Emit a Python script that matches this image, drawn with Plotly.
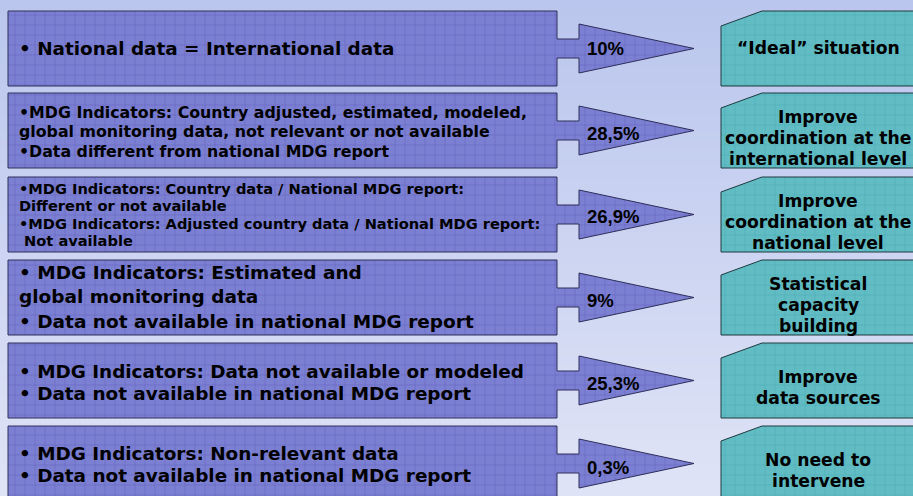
import plotly.graph_objects as go

# ---- content ----
left_texts = [
    "• National data = International data",
    "•MDG Indicators: Country adjusted, estimated, modeled,<br>global monitoring data, not relevant or not available<br>•Data different from national MDG report",
    "•MDG Indicators: Country data / National MDG report:<br>Different or not available<br>•MDG Indicators: Adjusted country data / National MDG report:<br> Not available",
    "• MDG Indicators: Estimated and<br>global monitoring data<br>• Data not available in national MDG report",
    "• MDG Indicators: Data not available or modeled<br>• Data not available in national MDG report",
    "• MDG Indicators: Non-relevant data<br>• Data not available in national MDG report",
]
percent_labels = ["10%", "28,5%", "26,9%", "9%", "25,3%", "0,3%"]
right_texts = [
    "“Ideal” situation",
    "Improve<br>coordination at the<br>international level",
    "Improve<br>coordination at the<br>national level",
    "Statistical<br>capacity<br>building",
    "Improve<br>data sources",
    "No need to<br>intervene",
]

# ---- layout / style constants ----
W, H = 913, 496
row_tops = [11, 93, 177, 260, 343, 426]
row_h = 75
box_x0, box_x1 = 8, 557
head_x, tip_x = 579, 694
stem_half, head_half = 9.5, 24.5
rb_x0, rb_x1 = 721, 923
chamfer_w, chamfer_h = 41, 15

left_font_sizes = [18.4, 15.8, 14.6, 18.5, 18.4, 18.4]
left_line_gap = [0, 19.5, 17.6, 24.5, 22, 22]
left_dy = [0, 1, 0, -1, 1.5, 0.5]
pct_dy = [0, 2.5, 1.5, 2.5, 2.5, 3.5]
right_font = 17.2
right_line_gap = 20.7
right_cx = 818

purple_bg = "#7c80d2"
purple_fg = "#4446ad"
teal_bg = "#62bcc4"
teal_fg = "#2a9aa4"

fig = go.Figure()

# background gradient bands
bands = 60
shapes = []
c0 = (186, 198, 237)
c1 = (223, 227, 246)
for i in range(bands):
    t = i / (bands - 1)
    col = tuple(int(round(c0[k] + (c1[k] - c0[k]) * t)) for k in range(3))
    shapes.append(dict(type="rect", xref="x", yref="y", layer="below",
                       x0=0, x1=W, y0=H * i / bands, y1=H * (i + 1) / bands + 1,
                       fillcolor="rgb(%d,%d,%d)" % col, line=dict(width=0)))

annotations = []


def add_lines(text, x, yc, gap, anchor, font):
    lines = text.split("<br>")
    n = len(lines)
    for j, ln in enumerate(lines):
        annotations.append(dict(x=x, y=yc + (j - (n - 1) / 2) * gap, xref="x", yref="y",
                                xanchor=anchor, yanchor="middle", text="<b>" + ln + "</b>",
                                showarrow=False, font=font))


for i in range(len(left_texts)):
    top = row_tops[i]
    bot = top + row_h
    cy = (top + bot) / 2
    xs = [box_x0, box_x1, box_x1, head_x, head_x, tip_x, head_x, head_x, box_x1, box_x1, box_x0, box_x0]
    ys = [top, top, cy - stem_half, cy - stem_half, cy - head_half, cy,
          cy + head_half, cy + stem_half, cy + stem_half, bot, bot, top]
    fig.add_trace(go.Scatter(
        x=xs, y=ys, mode="lines", fill="toself", hoverinfo="skip",
        line=dict(color="#2e2e5a", width=1),
        fillcolor=purple_bg,
        fillpattern=dict(shape="+", bgcolor=purple_bg, fgcolor=purple_fg, size=10, solidity=0.1),
        showlegend=False))
    # right box
    rxs = [rb_x0, rb_x0 + chamfer_w, rb_x1, rb_x1, rb_x0, rb_x0]
    rys = [top + chamfer_h, top, top, bot, bot, top + chamfer_h]
    fig.add_trace(go.Scatter(
        x=rxs, y=rys, mode="lines", fill="toself", hoverinfo="skip",
        line=dict(color="#1e3a3e", width=1),
        fillcolor=teal_bg,
        fillpattern=dict(shape="+", bgcolor=teal_bg, fgcolor=teal_fg, size=10, solidity=0.1),
        showlegend=False))

    add_lines(left_texts[i], 17, cy + left_dy[i], left_line_gap[i], "left",
              dict(family="DejaVu Sans", size=left_font_sizes[i], color="#000"))
    annotations.append(dict(x=585, y=cy + pct_dy[i], xref="x", yref="y", xanchor="left", yanchor="middle",
                            text="<b>" + percent_labels[i] + "</b>", showarrow=False,
                            font=dict(family="Liberation Sans", size=18.5, color="#000")))
    n_r = len(right_texts[i].split("<br>"))
    ryc = cy - 1 if n_r == 1 else cy + 7.3
    add_lines(right_texts[i], right_cx, ryc, right_line_gap, "center",
              dict(family="DejaVu Sans", size=right_font, color="#000"))

fig.update_layout(
    width=W, height=H, margin=dict(l=0, r=0, t=0, b=0),
    paper_bgcolor="rgb(200,209,240)", plot_bgcolor="rgba(0,0,0,0)",
    xaxis=dict(range=[0, W], visible=False, fixedrange=True),
    yaxis=dict(range=[H, 0], visible=False, fixedrange=True),
    shapes=shapes, annotations=annotations, showlegend=False,
)
fig.write_html("out.html", config={"displayModeBar": False},
               post_script="document.body.style.margin='0';document.body.style.overflow='hidden';")
